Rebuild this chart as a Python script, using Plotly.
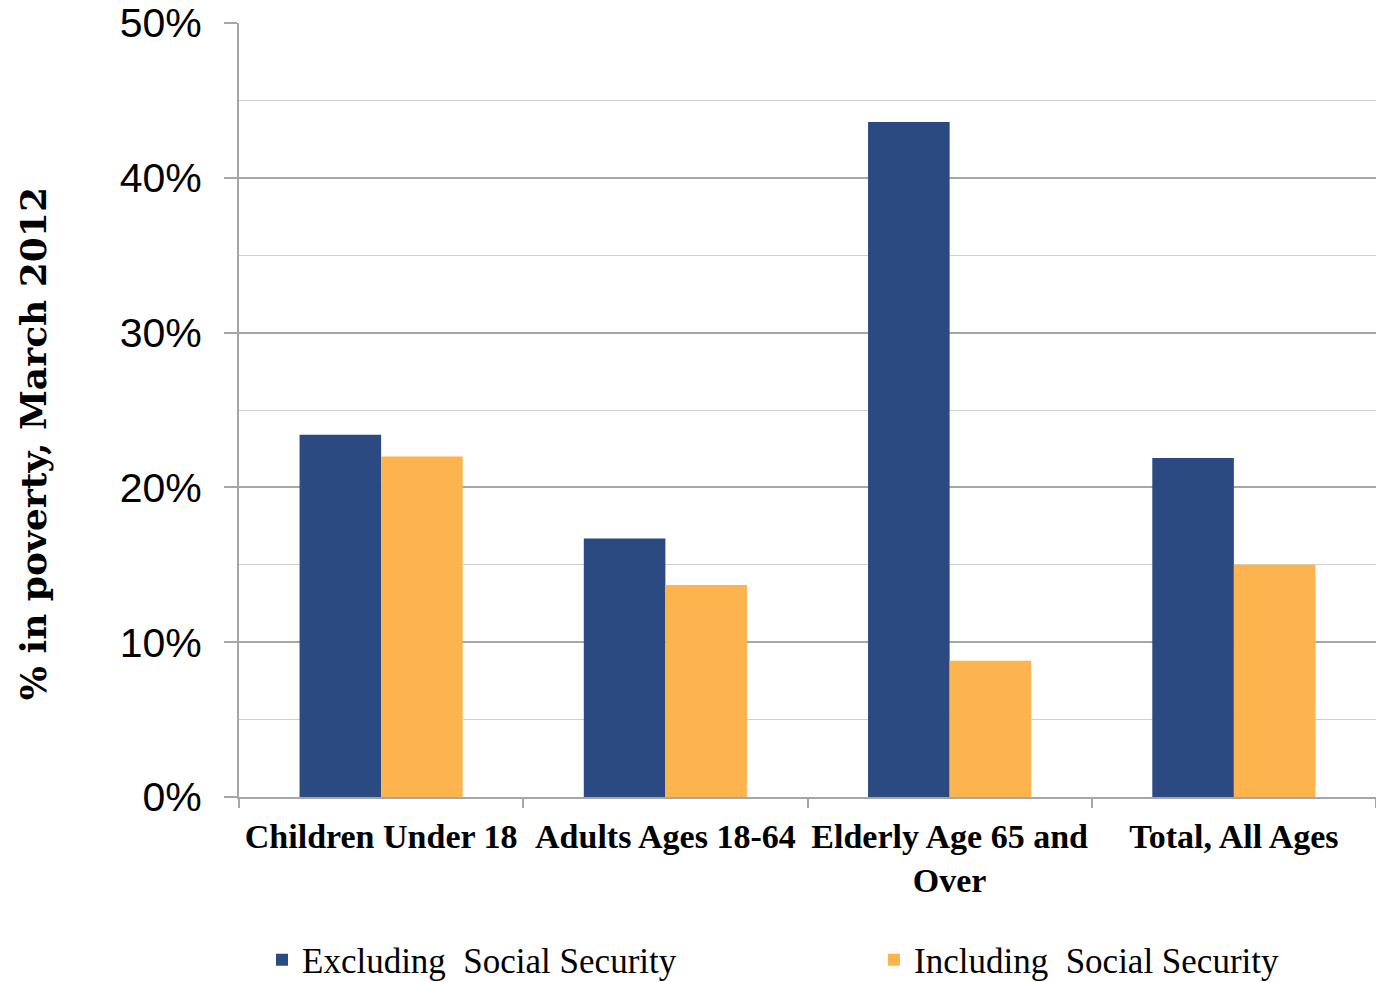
import plotly.graph_objects as go

categories = ["Children Under 18", "Adults Ages 18-64", "Elderly Age 65 and<br>Over", "Total, All Ages"]
excluding_ss = [0.234, 0.167, 0.436, 0.219]
including_ss = [0.220, 0.137, 0.088, 0.150]
series_names = ["Excluding\u00a0 Social Security", "Including\u00a0 Social Security"]
y_ticks = [0, 0.1, 0.2, 0.3, 0.4, 0.5]

BLUE = "#2B4A82"
ORANGE = "#FDB44E"

fig = go.Figure()
fig.add_trace(go.Bar(x=categories, y=excluding_ss, name=series_names[0],
                     marker=dict(color=BLUE, line=dict(width=0)), legend="legend"))
fig.add_trace(go.Bar(x=categories, y=including_ss, name=series_names[1],
                     marker=dict(color=ORANGE, line=dict(width=0)), legend="legend2"))

legend_common = dict(orientation="h", xref="container", yref="container",
                     xanchor="left", yanchor="middle", bgcolor="rgba(0,0,0,0)",
                     font=dict(family="Liberation Serif", size=35, color="black"))

fig.update_layout(
    width=1376, height=982,
    margin=dict(l=239, r=0, t=23, b=185, autoexpand=False),
    plot_bgcolor="white", paper_bgcolor="white",
    barmode="group", bargap=0.426, bargroupgap=0,
    showlegend=True,
    legend=dict(x=262 / 1376, y=1 - 960 / 982, **legend_common),
    legend2=dict(x=874 / 1376, y=1 - 960 / 982, **legend_common),
    annotations=[dict(text="<b>% in poverty, March 2012</b>", textangle=-90,
                      xref="paper", yref="paper", x=-0.181, y=0.456,
                      xanchor="center", yanchor="middle", showarrow=False,
                      font=dict(family="DejaVu Serif", size=36, color="black"))],
)

fig.update_yaxes(range=[0, 0.5], tickvals=y_ticks, tickformat=".0%",
                 showgrid=True, gridcolor="#A6A6A6", gridwidth=1.5,
                 minor=dict(dtick=0.05, showgrid=True, gridcolor="#D0D0D0", gridwidth=1.2, ticks=""),
                 showline=True, linecolor="#A6A6A6", linewidth=2,
                 ticks="outside", ticklen=13, tickcolor="#A6A6A6", tickwidth=2,
                 ticklabelstandoff=14,
                 tickfont=dict(family="Liberation Sans", size=41, color="black"),
                 zeroline=False)
fig.update_xaxes(showline=True, linecolor="#A6A6A6", linewidth=2,
                 ticks="outside", tickson="boundaries", ticklen=9, tickcolor="#A6A6A6", tickwidth=2,
                 tickangle=0, ticklabelstandoff=8,
                 tickfont=dict(family="Liberation Serif", size=34, color="black"),
                 tickprefix="<b>", ticksuffix="</b>")

fig.write_html("out.html")
